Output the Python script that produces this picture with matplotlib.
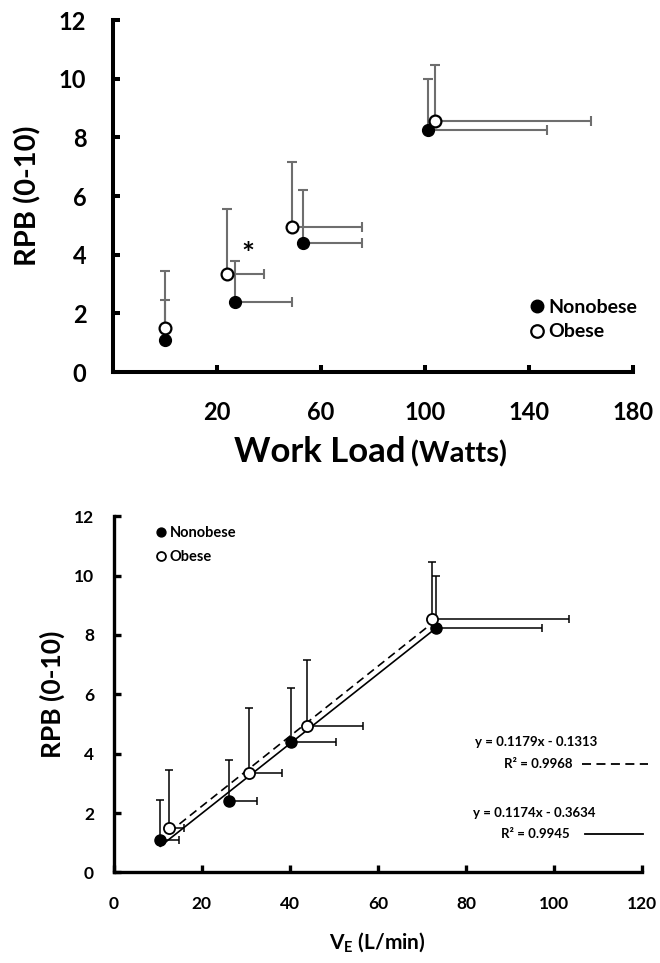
import matplotlib
matplotlib.use('Agg')
import matplotlib.pyplot as plt
import numpy as np

plt.rcParams['font.family'] = ['Lato', 'DejaVu Sans']
plt.rcParams['font.weight'] = 'bold'
plt.rcParams['axes.labelweight'] = 'bold'
plt.rcParams['mathtext.fontset'] = 'custom'
plt.rcParams['mathtext.rm'] = 'Lato:bold'
plt.rcParams['mathtext.bf'] = 'Lato:bold'

# mean RPB and upper SD for both groups
rpb_non = [1.1, 2.4, 4.4, 8.25]
rpb_ob = [1.5, 3.35, 4.95, 8.55]
rpb_non_sd = [1.35, 1.4, 1.8, 1.75]
rpb_ob_sd = [1.95, 2.2, 2.2, 1.9]

# work load (Watts)
work_non = [0, 27, 53, 101]
work_ob = [0, 24, 49, 104]
work_non_sd = [0, 22, 23, 46]
work_ob_sd = [0, 14, 27, 60]

# ventilation VE (L/min)
ve_non = [10.6, 26.2, 40.2, 73.2]
ve_ob = [12.6, 30.8, 44.0, 72.4]
ve_non_sd = [4.3, 6.4, 10.2, 24.0]
ve_ob_sd = [3.4, 7.4, 12.6, 31.1]

# trendlines (slope, intercept, R2) as printed on the chart
fit_ob = (0.1179, -0.1313, 0.9968)
fit_non = (0.1174, -0.3634, 0.9945)

zeros = np.zeros(4)

fig = plt.figure(figsize=(6.6, 9.63), dpi=100)

# ---- top: RPB vs work load
ax1 = fig.add_axes([0.171, 0.6137, 0.788, 0.3655])
grey = '#6e6e6e'
ax1.errorbar(work_non, rpb_non, xerr=[zeros, work_non_sd], yerr=[zeros, rpb_non_sd],
             fmt='none', ecolor=grey, elinewidth=1.5, capsize=3.6, capthick=1.5)
ax1.errorbar(work_ob, rpb_ob, xerr=[zeros, work_ob_sd], yerr=[zeros, rpb_ob_sd],
             fmt='none', ecolor=grey, elinewidth=1.5, capsize=3.6, capthick=1.5)
p1, = ax1.plot(work_non, rpb_non, 'o', ms=8.5, mfc='black', mec='black', zorder=3)
p2, = ax1.plot(work_ob, rpb_ob, 'o', ms=8.5, mfc='white', mec='black', mew=1.6, zorder=3)
ax1.text(31.9, 4.0, '*', fontsize=22, ha='center', va='center')

ax1.set_xlim(-20, 180)
ax1.set_ylim(0, 12)
ax1.set_xticks([20, 60, 100, 140, 180])
ax1.set_yticks(range(0, 13, 2))
for s in ['top', 'right']:
    ax1.spines[s].set_visible(False)
for s in ['left', 'bottom']:
    ax1.spines[s].set_linewidth(2.9)
ax1.tick_params(axis='both', direction='in', length=5, width=2.9, labelsize=17)
ax1.tick_params(axis='y', pad=19)
ax1.tick_params(axis='x', pad=21)
ax1.set_ylabel('RPB (0-10)', fontsize=21)
ax1.yaxis.set_label_coords(-0.137, 0.5)
fig.text(0.614, 0.520, 'Work Load', fontsize=25, ha='right', va='baseline')
fig.text(0.623, 0.520, '(Watts)', fontsize=21, ha='left', va='baseline')
ax1.legend([p1, p2], ['Nonobese', 'Obese'], loc='center left', bbox_to_anchor=(0.802, 0.149),
           frameon=False, fontsize=14, handlelength=0.7, handletextpad=0.25,
           labelspacing=0.4, borderpad=0, borderaxespad=0, markerscale=1.06)

# ---- bottom: RPB vs VE
ax2 = fig.add_axes([0.172, 0.094, 0.801, 0.370])
ax2.errorbar(ve_non, rpb_non, xerr=[zeros, ve_non_sd], yerr=[zeros, rpb_non_sd],
             fmt='none', ecolor='black', elinewidth=1.1, capsize=2.6, capthick=1.1)
ax2.errorbar(ve_ob, rpb_ob, xerr=[zeros, ve_ob_sd], yerr=[zeros, rpb_ob_sd],
             fmt='none', ecolor='black', elinewidth=1.1, capsize=2.6, capthick=1.1)

xs_non = np.array([min(ve_non), max(ve_non)])
xs_ob = np.array([min(ve_ob), max(ve_ob)])
ax2.plot(xs_non, fit_non[0] * xs_non + fit_non[1], color='black', lw=1.2, zorder=2.5)
ax2.plot(xs_ob, fit_ob[0] * xs_ob + fit_ob[1], color='black', lw=1.2, ls=(0, (5, 3)), zorder=2.5)

q1, = ax2.plot(ve_non, rpb_non, 'o', ms=8, mfc='black', mec='black', zorder=3)
q2, = ax2.plot(ve_ob, rpb_ob, 'o', ms=8, mfc='white', mec='black', mew=1.3, zorder=3)

ax2.set_xlim(0, 120)
ax2.set_ylim(0, 12)
ax2.set_xticks(range(0, 121, 20))
ax2.set_yticks(range(0, 13, 2))
for s in ['top', 'right']:
    ax2.spines[s].set_visible(False)
for s in ['left', 'bottom']:
    ax2.spines[s].set_linewidth(2.4)
ax2.tick_params(axis='both', direction='in', length=5, width=2.4, labelsize=12.5)
ax2.tick_params(axis='y', pad=14)
ax2.tick_params(axis='x', pad=17)
ax2.set_ylabel('RPB (0-10)', fontsize=19)
ax2.yaxis.set_label_coords(-0.091, 0.5)
ax2.set_xlabel(r'V$_\mathbf{E}$ (L/min)', fontsize=15)
ax2.xaxis.set_label_coords(0.5, -0.165)
ax2.legend([q1, q2], ['Nonobese', 'Obese'], loc='center left', bbox_to_anchor=(0.081, 0.919),
           frameon=False, fontsize=10.5, handlelength=0.7, handletextpad=0.2,
           labelspacing=0.7, borderpad=0, borderaxespad=0, markerscale=0.8)

ax2.text(0.799, 0.366, 'y = %.4fx - %.4f' % (fit_ob[0], -fit_ob[1]), transform=ax2.transAxes,
         fontsize=9.5, ha='center', va='center')
ax2.text(0.868, 0.304, 'R\u00b2 = %.4f' % fit_ob[2], transform=ax2.transAxes,
         fontsize=9.5, ha='right', va='center')
ax2.plot([0.887, 1.011], [0.304, 0.304], transform=ax2.transAxes, color='black',
         lw=1.3, ls=(0, (5, 3)), clip_on=False)
ax2.text(0.796, 0.166, 'y = %.4fx - %.4f' % (fit_non[0], -fit_non[1]), transform=ax2.transAxes,
         fontsize=9.5, ha='center', va='center')
ax2.text(0.863, 0.107, 'R\u00b2 = %.4f' % fit_non[2], transform=ax2.transAxes,
         fontsize=9.5, ha='right', va='center')
ax2.plot([0.891, 1.002], [0.107, 0.107], transform=ax2.transAxes, color='black',
         lw=1.3, clip_on=False)

plt.savefig('out.png', dpi=100)
